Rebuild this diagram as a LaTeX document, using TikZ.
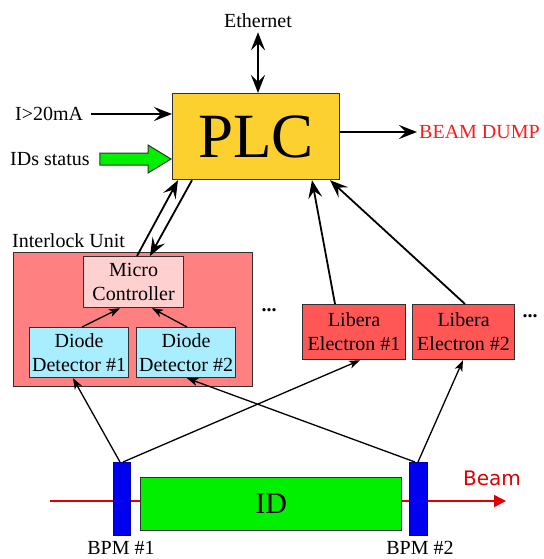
\documentclass[tikz,border=0pt]{standalone}
\usepackage{fontspec}
\setmainfont{Liberation Serif}
\newfontfamily\beamfont{DejaVu Sans}
\usetikzlibrary{arrows.meta,calc}

\definecolor{plcfill}{HTML}{FCD02E}
\definecolor{ilkfill}{HTML}{FF8080}
\definecolor{mcfill}{HTML}{FFD0D0}
\definecolor{ddfill}{HTML}{A8EEFF}
\definecolor{libfill}{HTML}{FF5656}
\definecolor{bpmblue}{HTML}{0000F0}
\definecolor{idgreen}{HTML}{00F000}
\definecolor{beamred}{HTML}{E00000}
\definecolor{dumpred}{HTML}{FF1A1A}
\definecolor{edge}{HTML}{303030}

\tikzset{
  x=1pt, y=-1pt,
  txt/.style={font=\fontsize{20}{24}\selectfont, inner sep=0pt},
  box/.style={draw=edge, line width=1.2pt, anchor=north west, inner sep=0pt,
              align=center, font=\fontsize{20}{24}\selectfont},
  bigarr/.style={line width=1.8pt, >={Stealth[length=18pt,width=14pt,inset=7pt]}, ->},
  botharr/.style={line width=1.8pt, >={Stealth[length=18pt,width=14pt,inset=7pt]}, <->},
  smallarr/.style={line width=1.3pt, -{Stealth[length=11pt,width=8pt,inset=3pt]}},
}

\begin{document}
\begin{tikzpicture}
\useasboundingbox (0,0) rectangle (543,559);

% ---- beam line (behind the BPMs and the ID) ----
\coordinate (beamin) at (50,501);
\coordinate (beamout) at (506,501);
\draw[beamred, line width=1.6pt, -{Triangle[length=12pt,width=12pt]}] (beamin) -- (beamout);
\node[font=\beamfont\fontsize{20}{24}\selectfont, text=beamred, anchor=base west, inner sep=0pt]
  (beamlbl) at (463,485) {Beam};

% ---- PLC ----
\node[box, fill=plcfill, minimum width=167pt, minimum height=86pt,
      font=\fontsize{63}{70}\selectfont] (plc) at (172,93) {PLC};

% ---- interlock unit ----
\node[box, fill=ilkfill, minimum width=239pt, minimum height=134pt] (ilk) at (13,252) {};
\node[txt, anchor=base west] (ilklbl) at (12,247) {Interlock Unit};
\node[box, fill=mcfill, minimum width=100pt, minimum height=51pt] (mc) at (83,256) {Micro\\Controller};
\node[box, fill=ddfill, minimum width=99pt, minimum height=50pt] (dd1) at (29,327) {Diode\\Detector \#1};
\node[box, fill=ddfill, minimum width=99pt, minimum height=50pt] (dd2) at (136,327) {Diode\\Detector \#2};

% ---- Libera units ----
\node[box, fill=libfill, minimum width=103pt, minimum height=55pt] (lib1) at (302,304) {Libera\\Electron \#1};
\node[box, fill=libfill, minimum width=102pt, minimum height=55pt] (lib2) at (412,304) {Libera\\Electron \#2};
\node[txt, font=\bfseries\fontsize{20}{24}\selectfont] (dots1) at (269,310) {...};
\node[txt, font=\bfseries\fontsize{20}{24}\selectfont] (dots2) at (530,316) {...};

% ---- ID and BPMs ----
\node[box, fill=idgreen, minimum width=261pt, minimum height=53pt,
      font=\fontsize{30}{34}\selectfont] (id) at (140,477) {ID};
\node[draw=bpmblue!70!black, line width=0.6pt, fill=bpmblue, anchor=north west,
      minimum width=17pt, minimum height=73pt, inner sep=0pt] (bpm1) at (113,462) {};
\node[draw=bpmblue!70!black, line width=0.6pt, fill=bpmblue, anchor=north west,
      minimum width=18pt, minimum height=73pt, inner sep=0pt] (bpm2) at (409,462) {};
\node[txt] (bpm1lbl) at (121,548) {BPM \#1};
\node[txt] (bpm2lbl) at (420,548) {BPM \#2};

% ---- outside signals of the PLC ----
\node[txt] (eth) at (258,21) {Ethernet};
\draw[botharr] ([yshift=-4pt]eth.south) -- (plc.north -| eth.south);
\node[txt, anchor=west] (cur) at (15,114) {I>20mA};
\draw[bigarr] ([xshift=8pt]cur.east) -- (plc.west |- cur.east);
\node[txt, anchor=west] (ids) at (10,159) {IDs status};
\coordinate (idsin) at ($(ids.east)+(10,0)$);
\draw[edge, line width=1pt, fill=idgreen]
  ($(idsin)+(0,-6)$) -- ($(plc.west |- idsin)+(-24,-6)$) -- ($(plc.west |- idsin)+(-24,-14)$)
  -- ($(plc.west |- idsin)+(-1,0)$) -- ($(plc.west |- idsin)+(-24,14)$)
  -- ($(plc.west |- idsin)+(-24,6)$) -- ($(idsin)+(0,6)$) -- cycle;
\node[txt, anchor=west, text=dumpred] (dump) at (419,132) {BEAM DUMP};
\draw[bigarr] (plc.east |- dump.west) -- ([xshift=-2pt]dump.west);

% ---- micro controller <-> PLC ----
\draw[bigarr] ([xshift=54pt]mc.north west) -- ([xshift=6pt]plc.south west);
\draw[bigarr] ([xshift=20pt]plc.south west) -- ([xshift=67pt]mc.north west);

% ---- Libera -> PLC ----
\draw[bigarr] ([xshift=33pt]lib1.north west) -- ([xshift=140pt]plc.south west);
\draw[bigarr] ([xshift=53pt]lib2.north west) -- ([xshift=158pt]plc.south west);

% ---- detectors -> micro controller ----
\draw[smallarr] ([xshift=53pt]dd1.north west) -- ([xshift=37pt]mc.south west);
\draw[smallarr] ([xshift=51pt]dd2.north west) -- ([xshift=69pt]mc.south west);

% ---- BPM pickups ----
\draw[smallarr] ([xshift=7pt]bpm1.north west) -- ([xshift=44pt]dd1.south west);
\draw[smallarr] ([xshift=10pt]bpm1.north west) -- ([xshift=58pt]lib1.south west);
\draw[smallarr] ([xshift=6pt]bpm2.north west) -- ([xshift=51pt]dd2.south west);
\draw[smallarr] ([xshift=9pt]bpm2.north west) -- ([xshift=51pt]lib2.south west);
\end{tikzpicture}
\end{document}
